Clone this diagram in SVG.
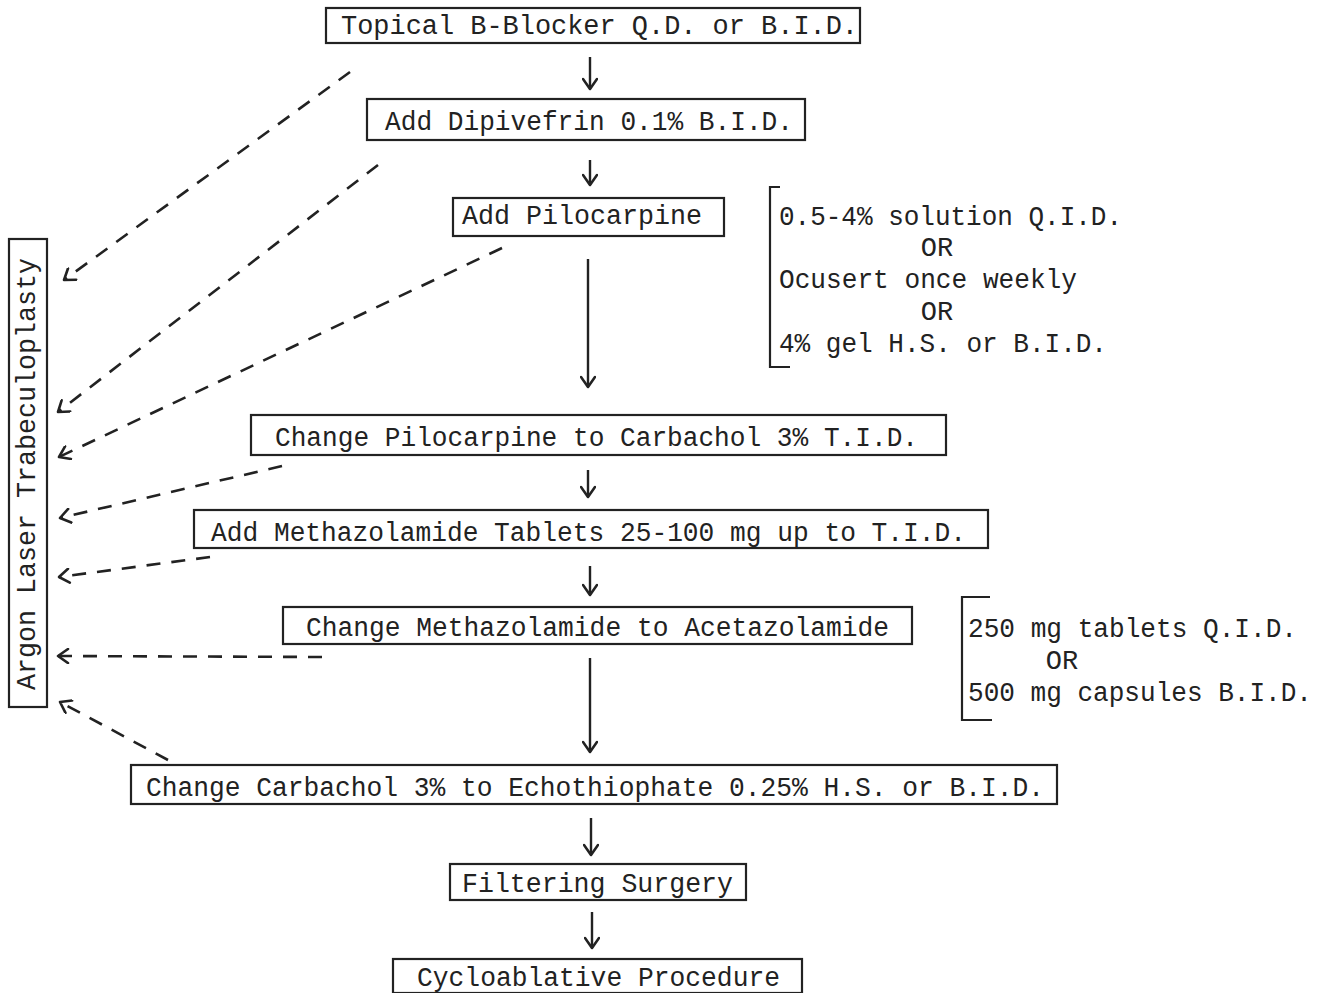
<svg xmlns="http://www.w3.org/2000/svg" width="1329" height="993" viewBox="0 0 1329 993">
<style>
.box{fill:none;stroke:#222;stroke-width:2.2}
.t{font-family:"Liberation Mono","DejaVu Sans Mono",monospace;font-size:27px;fill:#222}
.solid{fill:none;stroke:#222;stroke-width:2.4}
.dash{fill:none;stroke:#222;stroke-width:2.6;stroke-dasharray:14 11}
.br{fill:none;stroke:#222;stroke-width:2.2}
</style>
<defs>
<marker id="ah" viewBox="-12 -8 14 16" markerWidth="14" markerHeight="16" refX="0" refY="0" orient="auto" markerUnits="userSpaceOnUse">
<path d="M-10,-7 L0,0 L-10,7" fill="none" stroke="#222" stroke-width="2.6" stroke-linecap="round" stroke-linejoin="round"/>
</marker>
</defs>
<rect width="1329" height="993" fill="#fff"/>

<g id="n1"><rect class="box" x="326" y="8" width="534" height="35"/><text class="t" x="341" y="34" textLength="517" lengthAdjust="spacingAndGlyphs">Topical B-Blocker Q.D. or B.I.D.</text></g>
<g id="n2"><rect class="box" x="367" y="99" width="438" height="41"/><text class="t" x="385" y="130" textLength="408" lengthAdjust="spacingAndGlyphs">Add Dipivefrin 0.1% B.I.D.</text></g>
<g id="n3"><rect class="box" x="453" y="198" width="271" height="38"/><text class="t" x="462" y="224" textLength="240" lengthAdjust="spacingAndGlyphs">Add Pilocarpine</text></g>
<g id="n4"><rect class="box" x="251" y="415" width="695" height="40"/><text class="t" x="275" y="446" textLength="643" lengthAdjust="spacingAndGlyphs">Change Pilocarpine to Carbachol 3% T.I.D.</text></g>
<g id="n5"><rect class="box" x="194" y="510" width="794" height="38"/><text class="t" x="211" y="541" textLength="755" lengthAdjust="spacingAndGlyphs">Add Methazolamide Tablets 25-100 mg up to T.I.D.</text></g>
<g id="n6"><rect class="box" x="283" y="607" width="629" height="37"/><text class="t" x="306" y="636" textLength="583" lengthAdjust="spacingAndGlyphs">Change Methazolamide to Acetazolamide</text></g>
<g id="n7"><rect class="box" x="131" y="765" width="926" height="39"/><text class="t" x="146" y="796" textLength="898" lengthAdjust="spacingAndGlyphs">Change Carbachol 3% to Echothiophate 0.25% H.S. or B.I.D.</text></g>
<g id="n8"><rect class="box" x="450" y="864" width="296" height="36"/><text class="t" x="462" y="892" textLength="271" lengthAdjust="spacingAndGlyphs">Filtering Surgery</text></g>
<g id="n9"><rect class="box" x="393" y="959" width="409" height="34"/><text class="t" x="417" y="986" textLength="363" lengthAdjust="spacingAndGlyphs">Cycloablative Procedure</text></g>
<g id="alt"><rect class="box" x="9" y="239" width="38" height="468"/><text class="t" transform="translate(35,690) rotate(-90)" x="0" y="0" textLength="432" lengthAdjust="spacingAndGlyphs">Argon Laser Trabeculoplasty</text></g>

<g id="note1"><path class="br" d="M780,187 L770,187 L770,367 L790,367"/>
<text class="t" x="779" y="225" textLength="343" lengthAdjust="spacingAndGlyphs">0.5-4% solution Q.I.D.</text>
<text class="t" x="937" y="256" text-anchor="middle">OR</text>
<text class="t" x="779" y="288" textLength="298" lengthAdjust="spacingAndGlyphs">Ocusert once weekly</text>
<text class="t" x="937" y="320" text-anchor="middle">OR</text>
<text class="t" x="779" y="352" textLength="328" lengthAdjust="spacingAndGlyphs">4% gel H.S. or B.I.D.</text></g>

<g id="note2"><path class="br" d="M990,597 L962,597 L962,720 L992,720"/>
<text class="t" x="968" y="637" textLength="329" lengthAdjust="spacingAndGlyphs">250 mg tablets Q.I.D.</text>
<text class="t" x="1062" y="669" text-anchor="middle">OR</text>
<text class="t" x="968" y="701" textLength="344" lengthAdjust="spacingAndGlyphs">500 mg capsules B.I.D.</text></g>

<g id="connectors">
<path class="solid" marker-end="url(#ah)" d="M590,57 L590,89"/>
<path class="solid" marker-end="url(#ah)" d="M590,160 L590,185"/>
<path class="solid" marker-end="url(#ah)" d="M588,259 L588,387"/>
<path class="solid" marker-end="url(#ah)" d="M588,470 L588,497"/>
<path class="solid" marker-end="url(#ah)" d="M590,566 L590,595"/>
<path class="solid" marker-end="url(#ah)" d="M590,658 L590,752"/>
<path class="solid" marker-end="url(#ah)" d="M591,818 L591,855"/>
<path class="solid" marker-end="url(#ah)" d="M592,912 L592,948"/>
<path class="dash" marker-end="url(#ah)" d="M350,72 L64,280"/>
<path class="dash" marker-end="url(#ah)" d="M378,165 L58,412"/>
<path class="dash" marker-end="url(#ah)" d="M502,248 L59,457"/>
<path class="dash" marker-end="url(#ah)" d="M282,466 L60,518"/>
<path class="dash" marker-end="url(#ah)" d="M210,557 L59,577"/>
<path class="dash" marker-end="url(#ah)" d="M322,657 L58,656"/>
<path class="dash" marker-end="url(#ah)" d="M168,760 L60,702"/>
</g>
</svg>
